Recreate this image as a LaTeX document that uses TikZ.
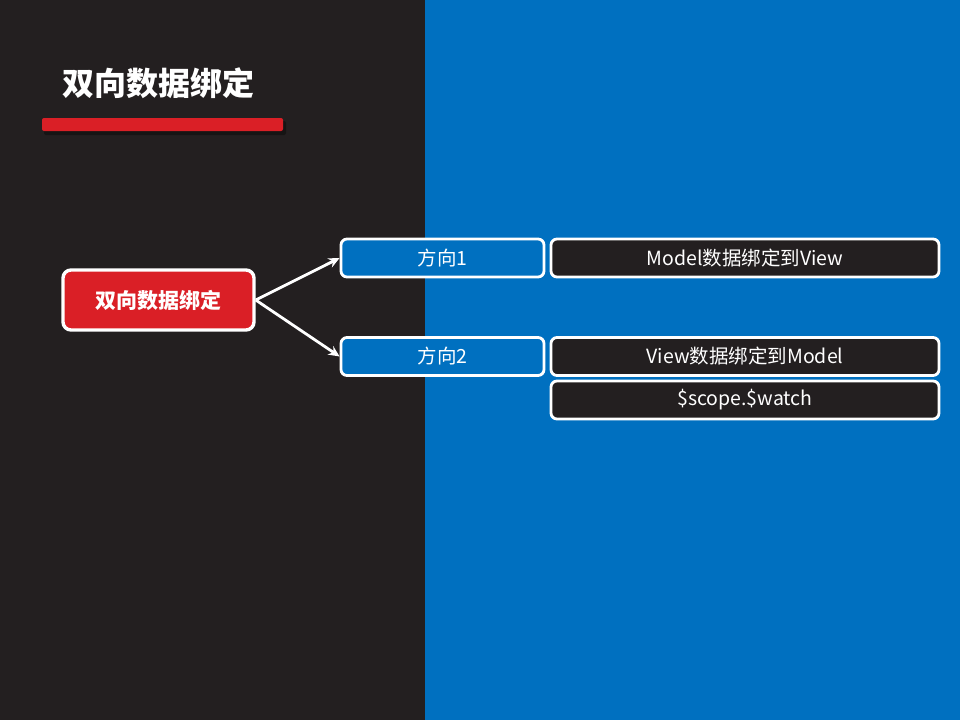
\documentclass[tikz,border=0pt]{standalone}
\usepackage{fontspec}
\setmainfont{Noto Sans CJK SC}
\usetikzlibrary{arrows.meta,shadows}
\definecolor{darkbg}{HTML}{231F20}
\definecolor{bluebg}{HTML}{0070C0}
\definecolor{redc}{HTML}{DA1F26}
\tikzset{
  box/.style={draw=white, line width=2.8pt, rounded corners=6pt, text=white, font=\fontsize{19.5}{22}\selectfont, inner sep=0pt},
  bluebox/.style={box, fill=bluebg, minimum width=203pt, minimum height=38pt},
  darkbox/.style={box, fill=darkbg, minimum width=388pt, minimum height=38pt},
  mainbox/.style={box, fill=redc, line width=3.4pt, rounded corners=8pt, minimum width=191pt, minimum height=60pt, font=\fontsize{21}{24}\selectfont\bfseries},
  conn/.style={draw=white, line width=2.8pt, -{Stealth[length=11pt,width=10pt]}}
}
\begin{document}
\begin{tikzpicture}[x=1pt,y=-1pt]
\useasboundingbox (0,0) rectangle (960,720);
\fill[darkbg] (0,0) rectangle (425,720);
\fill[bluebg] (425,0) rectangle (960,720);
% title
\node[anchor=west, text=white, font=\fontsize{32}{36}\selectfont\bfseries, inner sep=0pt] (title) at (62,83) {双向数据绑定};
\fill[black, opacity=0.35, rounded corners=2pt] (44,121) rectangle (286,135);
\fill[redc, rounded corners=2pt] (42,118) rectangle (283,131);
% nodes
\node[mainbox] (main) at (158.5,300) {双向数据绑定};
\node[bluebox] (d1) at (442.5,258) {方向1};
\node[bluebox] (d2) at (442.5,356.5) {方向2};
\node[darkbox] (m1) at (745,258) {Model数据绑定到View};
\node[darkbox] (m2) at (745,356.5) {View数据绑定到Model};
\node[darkbox] (m3) at (745,400) {\$scope.\$watch};
% connectors
\draw[conn] (main.east) -- (d1.west);
\draw[conn] (main.east) -- (d2.west);
\end{tikzpicture}
\end{document}
